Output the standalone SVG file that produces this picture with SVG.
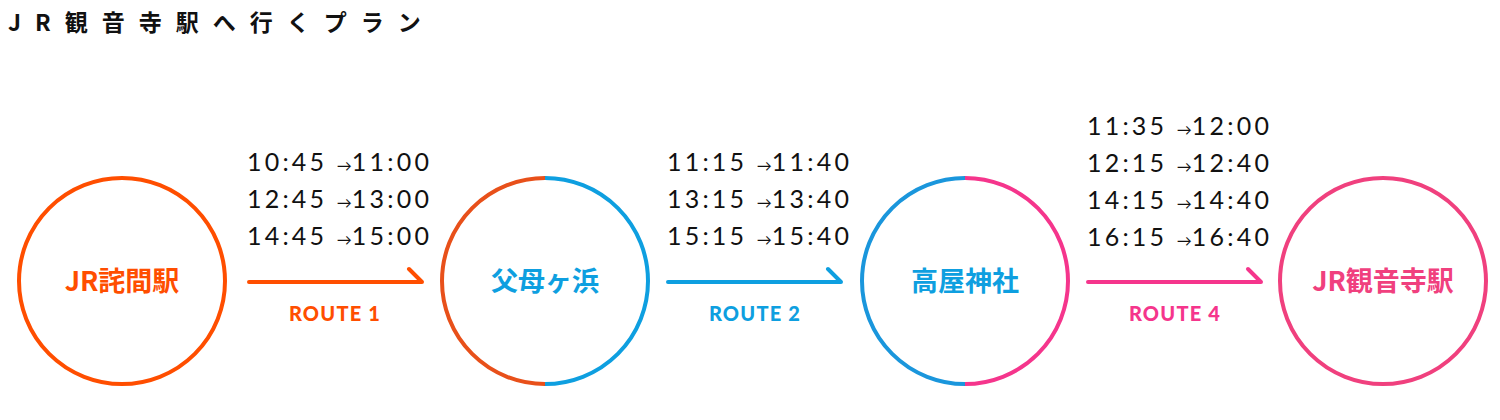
<svg xmlns="http://www.w3.org/2000/svg" width="1500" height="420" viewBox="0 0 1500 420">
<style>
.t{font-family:"Lato","Noto Sans CJK JP",sans-serif;font-size:25px;fill:#111;letter-spacing:3.2px}
.a{font-size:15px;letter-spacing:0}
.n{font-family:"Noto Sans CJK JP",sans-serif;font-weight:700;font-size:27px;text-anchor:middle}
.r{font-family:"Lato","Noto Sans",sans-serif;font-weight:900;font-size:20px;letter-spacing:1.2px;text-anchor:middle}
.c{fill:none;stroke-width:4}
.l{fill:none;stroke-width:4;stroke-linecap:round;stroke-linejoin:round}
</style>
<rect width="1500" height="420" fill="#fff"/>
<text x="8" y="31" font-family="Noto Sans CJK JP,sans-serif" font-weight="700" font-size="23" letter-spacing="14" fill="#111">JR観音寺駅へ行くプラン</text>
<g id="n1"><circle class="c" cx="122" cy="281" r="103" stroke="#FF4E00"/><text class="n" x="122" y="291" fill="#FF4E00">JR詫間駅</text></g>
<g id="n2"><path class="c" d="M545 178 A103 103 0 0 0 545 384" stroke="#E8501A"/><path class="c" d="M545 178 A103 103 0 0 1 545 384" stroke="#0E9FE0"/><text class="n" x="545" y="291" fill="#0E9FE0">父母ヶ浜</text></g>
<g id="n3"><path class="c" d="M965 178 A103 103 0 0 0 965 384" stroke="#1A96DC"/><path class="c" d="M965 178 A103 103 0 0 1 965 384" stroke="#F5358C"/><text class="n" x="965" y="291" fill="#0E9FE0">高屋神社</text></g>
<g id="n4"><circle class="c" cx="1383" cy="281" r="103" stroke="#F0407E"/><text class="n" x="1383" y="291" fill="#F0407E">JR観音寺駅</text></g>
<g id="connectors">
<path class="l" d="M249 282 H422 L409 269" stroke="#FF4E00"/>
<path class="l" d="M668 282 H841 L828 269" stroke="#0E9FE0"/>
<path class="l" d="M1088 282 H1261 L1248 269" stroke="#F5358C"/>
</g>
<text class="r" x="335" y="321" fill="#FF4E00">ROUTE 1</text>
<text class="r" x="755" y="321" fill="#0E9FE0">ROUTE 2</text>
<text class="r" x="1175" y="321" fill="#F5358C">ROUTE 4</text>
<g class="t">
<text x="247" y="171">10:45 <tspan class="a">→</tspan>11:00</text>
<text x="247" y="208">12:45 <tspan class="a">→</tspan>13:00</text>
<text x="247" y="245">14:45 <tspan class="a">→</tspan>15:00</text>
<text x="667" y="171">11:15 <tspan class="a">→</tspan>11:40</text>
<text x="667" y="208">13:15 <tspan class="a">→</tspan>13:40</text>
<text x="667" y="245">15:15 <tspan class="a">→</tspan>15:40</text>
<text x="1087" y="135">11:35 <tspan class="a">→</tspan>12:00</text>
<text x="1087" y="172">12:15 <tspan class="a">→</tspan>12:40</text>
<text x="1087" y="209">14:15 <tspan class="a">→</tspan>14:40</text>
<text x="1087" y="246">16:15 <tspan class="a">→</tspan>16:40</text>
</g>
</svg>
